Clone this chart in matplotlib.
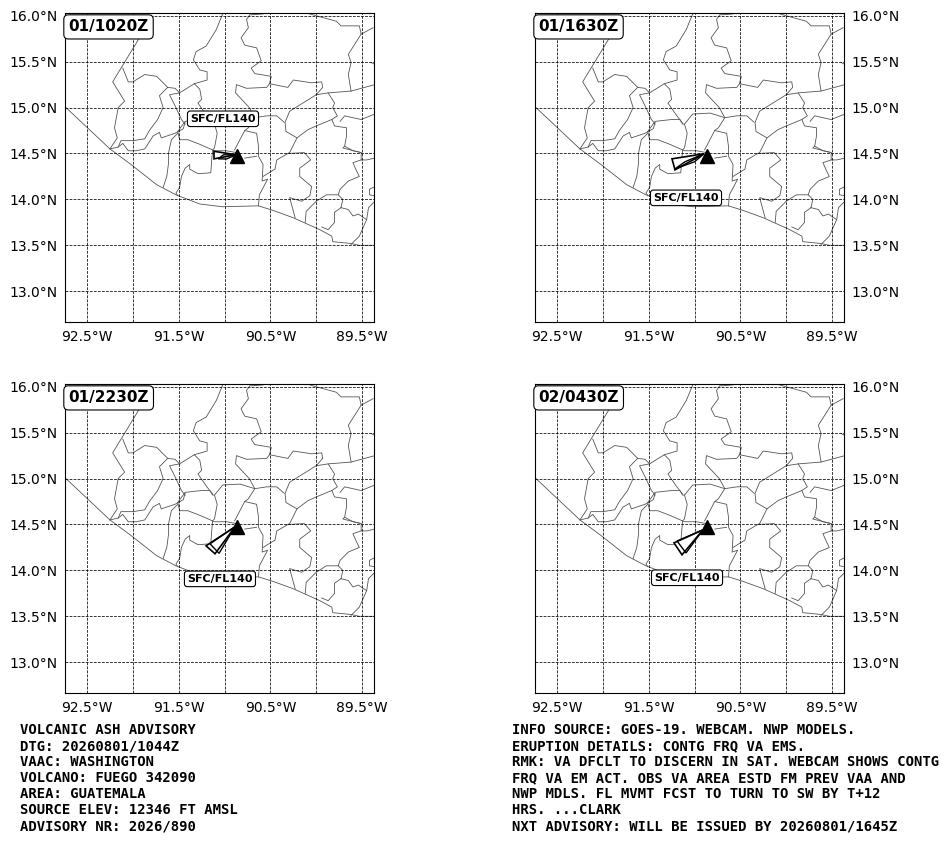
import matplotlib
matplotlib.use("Agg")
import matplotlib.pyplot as plt
from matplotlib.patches import Polygon

W, H = 948, 843

TIMES = ["01/1020Z", "01/1630Z", "01/2230Z", "02/0430Z"]
LEVEL = "SFC/FL140"
VOLCANO = (-90.865, 14.47)
LABEL_POS = [(-91.017, 14.878), (-91.093, 14.017), (-91.05, 13.908), (-91.082, 13.92)]

ASH_OUTER = [
    [(-91.115, 14.524), (-91.115, 14.442), (-90.875, 14.486)],
    [(-91.246, 14.442), (-91.213, 14.322), (-90.897, 14.497)],
    [(-91.202, 14.268), (-91.104, 14.181), (-90.886, 14.475)],
    [(-91.224, 14.30), (-91.137, 14.17), (-90.908, 14.442)],
]
ASH_INNER = [
    [(-91.07, 14.442), (-91.01, 14.486), (-90.875, 14.486), (-90.98, 14.44)],
    [(-91.213, 14.333), (-91.104, 14.41), (-90.897, 14.497), (-91.0, 14.41)],
    [(-91.159, 14.29), (-91.06, 14.186), (-90.886, 14.475)],
    [(-91.191, 14.32), (-91.093, 14.19), (-90.908, 14.442)],
]

LON_GRID = [-92.5, -92.0, -91.5, -91.0, -90.5, -90.0, -89.5]
LON_LABELS = ["92.5°W", "", "91.5°W", "", "90.5°W", "", "89.5°W"]
LAT_GRID = [13.0, 13.5, 14.0, 14.5, 15.0, 15.5, 16.0]
LAT_LABELS = ["13.0°N", "13.5°N", "14.0°N", "14.5°N", "15.0°N", "15.5°N", "16.0°N"]

COAST = [(-92.74, 15.01), (-92.25, 14.55), (-92.02, 14.38), (-91.74, 14.16), (-91.53, 14.05),
         (-91.27, 13.95), (-91.02, 13.92), (-90.63, 13.93), (-90.47, 13.88), (-90.25, 13.80),
         (-89.96, 13.67), (-89.83, 13.60), (-89.82, 13.54), (-89.62, 13.52), (-89.53, 13.50),
         (-89.36, 13.50)]

BOUNDARIES = [
    [(-91.78, 15.99), (-91.94, 15.74), (-92.22, 15.28), (-92.09, 15.07), (-92.16, 15.00), (-92.20, 14.78), (-92.17, 14.67), (-92.25, 14.55)],
    [(-92.11, 15.43), (-92.05, 15.28), (-92.00, 15.28), (-91.87, 15.36), (-91.74, 15.34), (-91.62, 15.22)],
    [(-91.62, 15.22), (-91.71, 15.13), (-91.67, 15.00), (-91.73, 14.87), (-91.82, 14.75), (-91.87, 14.66), (-92.00, 14.64), (-92.13, 14.64), (-92.16, 14.57), (-92.25, 14.55)],
    [(-92.16, 14.57), (-92.11, 14.61), (-92.05, 14.53), (-91.96, 14.53), (-91.87, 14.55), (-91.78, 14.69), (-91.71, 14.73), (-91.69, 14.67), (-91.54, 14.72), (-91.45, 14.77), (-91.43, 14.84)],
    [(-91.62, 15.22), (-91.54, 15.21), (-91.49, 15.16), (-91.60, 15.14), (-91.54, 15.02), (-91.47, 14.87), (-91.43, 14.82)],
    [(-91.02, 16.02), (-91.09, 15.85), (-91.20, 15.67), (-91.31, 15.61), (-91.34, 15.52), (-91.27, 15.41), (-91.19, 15.39), (-91.19, 15.30), (-91.33, 15.26), (-91.49, 15.16)],
    [(-91.33, 15.26), (-91.27, 15.20), (-91.25, 15.09), (-91.29, 15.05), (-91.20, 14.92), (-91.13, 14.83)],
    [(-91.51, 14.74), (-91.43, 14.85), (-91.25, 14.87), (-91.16, 14.87), (-91.13, 14.82), (-91.11, 14.82), (-91.02, 14.93), (-90.83, 14.94), (-90.67, 14.89), (-90.54, 14.91), (-90.43, 14.91), (-90.35, 14.84)],
    [(-91.51, 14.74), (-91.49, 14.65), (-91.40, 14.65), (-91.27, 14.60), (-91.11, 14.53), (-90.98, 14.53), (-90.87, 14.51)],
    [(-91.11, 14.82), (-91.08, 14.72), (-91.11, 14.56), (-91.13, 14.54), (-91.14, 14.43), (-91.15, 14.29), (-91.29, 14.28), (-91.38, 14.33), (-91.38, 14.38), (-91.43, 14.34), (-91.47, 14.25), (-91.49, 14.13), (-91.53, 14.07), (-91.51, 14.04)],
    [(-91.51, 14.72), (-91.58, 14.65), (-91.61, 14.51), (-91.61, 14.40), (-91.63, 14.25), (-91.67, 14.13)],
    [(-90.71, 16.03), (-90.76, 15.96), (-90.74, 15.87), (-90.82, 15.76), (-90.78, 15.68), (-90.65, 15.65), (-90.60, 15.51), (-90.71, 15.43), (-90.67, 15.37), (-90.49, 15.34), (-90.51, 15.26), (-90.54, 15.22), (-90.76, 15.21), (-90.87, 15.25), (-90.88, 15.16), (-90.73, 15.00), (-90.67, 14.89)],
    [(-90.67, 14.89), (-90.74, 14.78), (-90.78, 14.75), (-90.89, 14.54)],
    [(-90.78, 14.75), (-90.65, 14.72), (-90.63, 14.58), (-90.63, 14.47), (-90.58, 14.38), (-90.59, 14.20), (-90.53, 14.22), (-90.62, 14.05), (-90.63, 13.93)],
    [(-90.78, 14.45), (-90.65, 14.47)],
    [(-90.51, 15.26), (-90.31, 15.22), (-90.25, 15.30), (-90.05, 15.27), (-89.94, 15.28), (-89.93, 15.22), (-90.00, 15.14), (-90.29, 14.96), (-90.34, 14.84), (-90.33, 14.74), (-90.21, 14.67), (-90.29, 14.51), (-90.31, 14.50)],
    [(-90.00, 15.14), (-89.87, 15.16), (-89.62, 15.18), (-89.36, 15.25)],
    [(-89.87, 15.16), (-89.80, 15.05), (-89.82, 15.00), (-89.77, 14.91), (-89.83, 14.87), (-89.80, 14.80), (-89.67, 14.78), (-89.67, 14.69), (-89.69, 14.58), (-89.71, 14.56), (-89.51, 14.51)],
    [(-89.83, 14.87), (-90.00, 14.80), (-90.09, 14.76), (-90.21, 14.67)],
    [(-89.38, 15.87), (-89.51, 15.80), (-89.65, 15.58), (-89.62, 15.49), (-89.65, 15.36), (-89.62, 15.18)],
    [(-90.07, 16.02), (-90.00, 16.00), (-89.78, 15.94), (-89.73, 15.89), (-89.53, 15.89), (-89.51, 15.80)],
    [(-90.71, 16.01), (-90.58, 16.02)],
    [(-89.74, 14.85), (-89.69, 14.91), (-89.51, 14.87), (-89.36, 14.93)],
    [(-89.40, 15.49), (-89.36, 15.47)],
    [(-89.69, 14.58), (-89.60, 14.53), (-89.51, 14.51), (-89.51, 14.43), (-89.45, 14.43), (-89.36, 14.45)],
    [(-89.51, 14.43), (-89.60, 14.40), (-89.56, 14.31), (-89.53, 14.25), (-89.65, 14.20), (-89.74, 14.11), (-89.76, 14.05), (-89.71, 14.00), (-89.73, 13.91)],
    [(-89.76, 14.05), (-89.89, 14.05), (-90.00, 13.98), (-90.11, 13.87), (-90.12, 13.75)],
    [(-89.36, 14.14), (-89.42, 14.11), (-89.42, 14.05), (-89.36, 14.04)],
    [(-89.73, 13.91), (-89.80, 13.86), (-89.80, 13.75), (-89.87, 13.67), (-89.94, 13.70)],
    [(-89.73, 13.91), (-89.65, 13.89), (-89.60, 13.82), (-89.54, 13.84), (-89.45, 13.78), (-89.53, 13.60), (-89.62, 13.51)],
    [(-89.36, 13.98), (-89.43, 13.91), (-89.45, 13.78)],
    [(-90.58, 14.25), (-90.45, 14.33), (-90.43, 14.43), (-90.31, 14.50), (-90.13, 14.51), (-90.06, 14.43), (-90.18, 14.34), (-90.18, 14.25), (-90.05, 14.14), (-90.07, 14.04), (-90.16, 13.98), (-90.29, 14.02), (-90.23, 13.80)],
]

TEXT_LEFT = ["VOLCANIC ASH ADVISORY", "DTG: 20260801/1044Z", "VAAC: WASHINGTON",
             "VOLCANO: FUEGO 342090", "AREA: GUATEMALA", "SOURCE ELEV: 12346 FT AMSL",
             "ADVISORY NR: 2026/890"]
TEXT_RIGHT = ["INFO SOURCE: GOES-19. WEBCAM. NWP MODELS.", "ERUPTION DETAILS: CONTG FRQ VA EMS.",
              "RMK: VA DFCLT TO DISCERN IN SAT. WEBCAM SHOWS CONTG",
              "FRQ VA EM ACT. OBS VA AREA ESTD FM PREV VAA AND",
              "NWP MDLS. FL MVMT FCST TO TURN TO SW BY T+12", "HRS. ...CLARK",
              "NXT ADVISORY: WILL BE ISSUED BY 20260801/1645Z"]

fig = plt.figure(figsize=(W / 100, H / 100), dpi=100)
BOXES = [(65, 13), (535, 13), (65, 384), (535, 384)]
SIZE = 309

for i, (left, top) in enumerate(BOXES):
    ax = fig.add_axes([left / W, 1 - (top + SIZE) / H, SIZE / W, SIZE / H])
    ax.set_xlim(-92.74, -89.37)
    ax.set_ylim(12.665, 16.03)
    ax.set_xticks(LON_GRID, LON_LABELS)
    ax.set_yticks(LAT_GRID, LAT_LABELS)
    ax.tick_params(length=0, labelsize=10)
    ax.tick_params(axis="x", pad=6)
    ax.tick_params(axis="y", pad=5.5)
    if i % 2:
        ax.yaxis.tick_right()
    ax.grid(True, color="black", ls="--", lw=0.55, zorder=3)
    ax.set_axisbelow(False)
    for line in BOUNDARIES + [COAST]:
        ax.plot([p[0] for p in line], [p[1] for p in line], color="#555555", lw=0.6, zorder=2)
    ax.add_patch(Polygon(ASH_OUTER[i], closed=True, fc="white", ec="black", lw=1.2, zorder=4))
    ax.add_patch(Polygon(ASH_INNER[i], closed=True, fc="none", ec="black", lw=1.0, zorder=4))
    ax.plot([VOLCANO[0]], [VOLCANO[1]], marker="^", ms=10.5, color="black", mec="black", zorder=5, ls="none")
    ax.text(LABEL_POS[i][0], LABEL_POS[i][1], LEVEL, fontsize=8, fontweight="bold", ha="center", va="center",
            zorder=6, bbox=dict(boxstyle="round,pad=0.25", fc="white", ec="black", lw=0.8))
    ax.text(0.011, 0.955, TIMES[i], transform=ax.transAxes, fontsize=11, fontweight="bold", ha="left", va="center",
            zorder=7, bbox=dict(boxstyle="round,pad=0.3", fc="white", ec="black", lw=0.8))

for k, (a, b) in enumerate(zip(TEXT_LEFT, TEXT_RIGHT)):
    y = 1 - (730 + 16 * k) / H
    fig.text(20 / W, y, a, family="DejaVu Sans Mono", fontweight="bold", fontsize=10, ha="left", va="center")
    fig.text(512 / W, y, b, family="DejaVu Sans Mono", fontweight="bold", fontsize=10, ha="left", va="center")

fig.savefig("out.png", dpi=100)
